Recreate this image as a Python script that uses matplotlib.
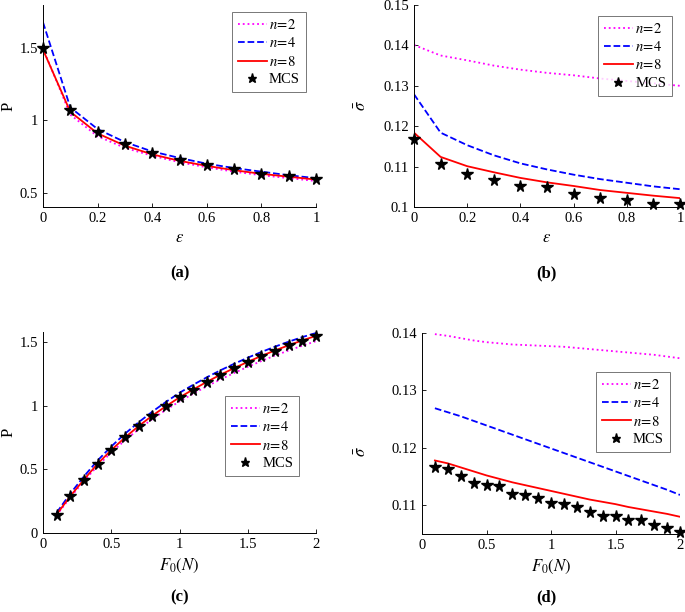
import matplotlib
matplotlib.use("Agg")
import matplotlib.pyplot as plt

plt.rcParams['font.family'] = ['Liberation Serif', 'DejaVu Serif']
plt.rcParams['mathtext.fontset'] = 'stix'

# ---- data ----
eps = [0, 0.1, 0.2, 0.3, 0.4, 0.5, 0.6, 0.7, 0.8, 0.9, 1.0]
a_n2 = [1.50, 1.04, 0.89, 0.81, 0.755, 0.71, 0.675, 0.645, 0.62, 0.60, 0.58]
a_n4 = [1.68, 1.09, 0.94, 0.85, 0.785, 0.74, 0.70, 0.67, 0.645, 0.62, 0.60]
a_n8 = [1.49, 1.06, 0.91, 0.825, 0.765, 0.72, 0.685, 0.655, 0.63, 0.61, 0.59]
a_mcs = [1.50, 1.069, 0.919, 0.836, 0.771, 0.725, 0.690, 0.662, 0.632, 0.616, 0.595]

b_n2 = [0.1401, 0.1375, 0.1363, 0.1350, 0.1340, 0.1332, 0.1326, 0.1318, 0.1312, 0.1306, 0.1300]
b_n4 = [0.1279, 0.1184, 0.1153, 0.1128, 0.1108, 0.1093, 0.1080, 0.1069, 0.1060, 0.1051, 0.1044]
b_n8 = [0.1184, 0.1124, 0.1101, 0.1086, 0.1072, 0.1061, 0.1052, 0.1042, 0.1035, 0.1028, 0.1022]
b_mcs = [0.1168, 0.1106, 0.1082, 0.1066, 0.1051, 0.1050, 0.1033, 0.1022, 0.1017, 0.1008, 0.1008]

F0 = [0.1, 0.2, 0.3, 0.4, 0.5, 0.6, 0.7, 0.8, 0.9, 1.0,
      1.1, 1.2, 1.3, 1.4, 1.5, 1.6, 1.7, 1.8, 1.9, 2.0]
c_mcs = [0.144, 0.288, 0.419, 0.545, 0.652, 0.751, 0.840, 0.923, 0.995, 1.066,
         1.126, 1.186, 1.243, 1.296, 1.343, 1.393, 1.432, 1.474, 1.513, 1.552]
c_n8 = [0.146, 0.290, 0.420, 0.544, 0.652, 0.750, 0.840, 0.922, 0.996, 1.066,
        1.128, 1.188, 1.244, 1.296, 1.345, 1.392, 1.435, 1.476, 1.514, 1.550]
c_n4 = [0.160, 0.310, 0.445, 0.570, 0.680, 0.780, 0.870, 0.953, 1.030, 1.102,
        1.165, 1.224, 1.279, 1.330, 1.378, 1.423, 1.465, 1.504, 1.540, 1.572]
c_n2 = [0.140, 0.280, 0.408, 0.528, 0.632, 0.728, 0.815, 0.895, 0.967, 1.034,
        1.095, 1.153, 1.207, 1.258, 1.306, 1.352, 1.395, 1.435, 1.472, 1.508]

d_n2 = [0.1398, 0.1395, 0.1391, 0.1387, 0.1384, 0.1382, 0.1380, 0.1379, 0.1378, 0.1377,
        0.1376, 0.1374, 0.1372, 0.1370, 0.1368, 0.1366, 0.1364, 0.1362, 0.1359, 0.1356]
d_n4 = [0.1269, 0.1262, 0.1255, 0.1247, 0.1239, 0.1231, 0.1223, 0.1215, 0.1207, 0.1199,
        0.1191, 0.1183, 0.1175, 0.1167, 0.1159, 0.1151, 0.1143, 0.1135, 0.1127, 0.1118]
d_n8 = [0.1178, 0.1173, 0.1166, 0.1159, 0.1152, 0.1146, 0.1140, 0.1135, 0.1130, 0.1125,
        0.1120, 0.1115, 0.1110, 0.1106, 0.1102, 0.1097, 0.1093, 0.1089, 0.1085, 0.1080]
d_mcs = [0.1167, 0.1163, 0.1151, 0.1139, 0.1136, 0.1133, 0.1120, 0.1118, 0.1112, 0.1104,
         0.1103, 0.1097, 0.1088, 0.1081, 0.1081, 0.1075, 0.1075, 0.1065, 0.1061, 0.1053]

labels = [r'$n\!=\!2$', r'$n\!=\!4$', r'$n\!=\!8$', 'MCS']

W, H = 685, 612
fig = plt.figure(figsize=(W / 100, H / 100), dpi=100)


def ax_at(l, t, r, b):
    return fig.add_axes([l / W, 1 - b / H, (r - l) / W, (b - t) / H])


def style(ax):
    ax.spines['top'].set_visible(False)
    ax.spines['right'].set_visible(False)
    ax.tick_params(direction='in', length=3, labelsize=10.5, width=0.6)
    for s in ('left', 'bottom'):
        ax.spines[s].set_linewidth(0.7)


def draw(ax, x, n2, n4, n8, mcs, loc_bbox):
    l2, = ax.plot(x, n2, ':', color='magenta', lw=1.3)
    l4, = ax.plot(x, n4, '--', color='blue', lw=1.3)
    l8, = ax.plot(x, n8, '-', color='red', lw=1.3)
    lm, = ax.plot(x, mcs, '*', color='black', ms=8.5, clip_on=False)
    leg = ax.legend([l2, l4, l8, lm], labels, loc='upper right', bbox_to_anchor=loc_bbox,
                    fontsize=10.5, frameon=True, fancybox=False, handlelength=2.0,
                    handletextpad=0.15, borderpad=0.4, labelspacing=0.3, borderaxespad=0,
                    markerscale=0.8)
    leg.get_frame().set_edgecolor('#555555')
    leg.get_frame().set_linewidth(0.7)


# (a)
ax = ax_at(43, 5, 316, 207)
draw(ax, eps, a_n2, a_n4, a_n8, a_mcs, (0.963, 0.965))
ax.set_xlim(0, 1)
ax.set_ylim(0.4, 1.8)
ax.set_xticks([0, 0.2, 0.4, 0.6, 0.8, 1])
ax.set_xticklabels(['0', '0.2', '0.4', '0.6', '0.8', '1'])
ax.set_yticks([0.5, 1, 1.5])
ax.set_yticklabels(['0.5', '1', '1.5'])
ax.set_xlabel(r'$\varepsilon$', fontsize=12)
ax.set_ylabel('P', fontsize=12)
ax.yaxis.set_label_coords(-0.098, 0.5)
style(ax)

# (b)
ax = ax_at(414, 5, 680, 207)
draw(ax, eps, b_n2, b_n4, b_n8, b_mcs, (0.97, 0.946))
ax.set_xlim(0, 1)
ax.set_ylim(0.1, 0.15)
ax.set_xticks([0, 0.2, 0.4, 0.6, 0.8, 1])
ax.set_xticklabels(['0', '0.2', '0.4', '0.6', '0.8', '1'])
ax.set_yticks([0.1, 0.11, 0.12, 0.13, 0.14, 0.15])
ax.set_yticklabels(['0.1', '0.11', '0.12', '0.13', '0.14', '0.15'])
ax.set_xlabel(r'$\varepsilon$', fontsize=12)
ax.set_ylabel(r'$\bar{\sigma}$', fontsize=12)
ax.yaxis.set_label_coords(-0.165, 0.5)
style(ax)

# (c)
ax = ax_at(43, 332, 316, 533)
draw(ax, F0, c_n2, c_n4, c_n8, c_mcs, (0.938, 0.682))
ax.set_xlim(0, 2)
ax.set_ylim(0, 1.58)
ax.set_xticks([0, 0.5, 1, 1.5, 2])
ax.set_xticklabels(['0', '0.5', '1', '1.5', '2'])
ax.set_yticks([0, 0.5, 1, 1.5])
ax.set_yticklabels(['0', '0.5', '1', '1.5'])
ax.set_xlabel(r'$F_0(N)$', fontsize=12, labelpad=4)
ax.set_ylabel('P', fontsize=12)
ax.yaxis.set_label_coords(-0.098, 0.5)
style(ax)

# (d)
ax = ax_at(422, 333, 680, 534)
draw(ax, F0, d_n2, d_n4, d_n8, d_mcs, (0.961, 0.806))
ax.set_xlim(0, 2)
ax.set_ylim(0.105, 0.14)
ax.set_xticks([0, 0.5, 1, 1.5, 2])
ax.set_xticklabels(['0', '0.5', '1', '1.5', '2'])
ax.set_yticks([0.11, 0.12, 0.13, 0.14])
ax.set_yticklabels(['0.11', '0.12', '0.13', '0.14'])
ax.set_xlabel(r'$F_0(N)$', fontsize=12, labelpad=4)
ax.set_ylabel(r'$\bar{\sigma}$', fontsize=12)
ax.yaxis.set_label_coords(-0.2, 0.41)
style(ax)

for txt, x, y in [('(a)', 180, 273), ('(b)', 546, 273), ('(c)', 180, 597), ('(d)', 546, 597)]:
    fig.text(x / W, 1 - y / H, txt, ha='center', va='center', fontsize=12, fontweight='bold')

fig.savefig('out.png', dpi=100)
